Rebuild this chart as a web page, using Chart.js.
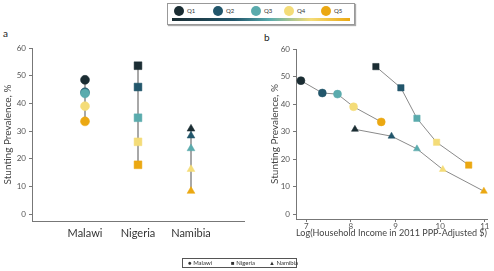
<!DOCTYPE html>
<html lang="en">
<head>
  <meta charset="UTF-8">
  <title>Stunting prevalence by income quintile</title>
  <script src="https://cdn.jsdelivr.net/npm/chart.js"></script>
  <style>
    body { margin: 0; width: 494px; height: 271px; position: relative; overflow: hidden; background: #fff; font-family: Lato, Arial, sans-serif; color: #333; }
    canvas { position: absolute; top: 0; }
    #chartA { left: 0; }
    #chartB { left: 250px; }
    .panel { position: absolute; font-size: 10px; color: #222; }
    #topLegend { position: absolute; left: 167px; top: 3px; width: 186px; height: 20px; border: 1px solid #999; box-shadow: 1px 1px 1px #aaa; background: #fff; }
    #topLegend .item { position: absolute; top: 2px; font-size: 6px; line-height: 10px; color: #333; white-space: nowrap; }
    #topLegend .dot { display: inline-block; width: 10px; height: 10px; border-radius: 50%; vertical-align: top; margin-right: 3px; }
    #topLegend .bar { position: absolute; left: 4px; right: 4px; top: 14px; height: 3px;
      background: linear-gradient(to right, #1b2d33 0%, #22566b 35%, #5aabad 55%, #f4dc78 78%, #eba812 100%); }
    #bottomLegend { position: absolute; left: 182px; top: 258px; width: 113px; height: 8px; border: 1px solid #555; font-size: 6px; line-height: 8px; color: #333; background: #fff; }
    #bottomLegend span { position: absolute; top: 0; white-space: nowrap; }
  </style>
</head>
<body>

<div class="panel" style="left:3px; top:27px;">a</div>
<div class="panel" style="left:264px; top:31px;">b</div>

<div id="topLegend">
  <div class="bar"></div>
</div>

<canvas id="chartA" width="250" height="271"></canvas>
<canvas id="chartB" width="244" height="271"></canvas>

<div id="bottomLegend">
  <span style="left:5px;">&#9679; Malawi</span>
  <span style="left:48px;">&#9632; Nigeria</span>
  <span style="left:86px;">&#9650; Namibia</span>
</div>

<script>
  const quintiles = ['Q1', 'Q2', 'Q3', 'Q4', 'Q5'];
  const countries = ['Malawi', 'Nigeria', 'Namibia'];
  const qColors = ['#1b2d33', '#22566b', '#5aabad', '#f4dc78', '#eba812'];

  // stunting prevalence (%) by quintile
  const malawiStunting = [48.5, 44.0, 43.6, 39.0, 33.5];
  const nigeriaStunting = [53.6, 45.9, 34.8, 26.1, 17.8];
  const namibiaStunting = [30.8, 28.3, 23.7, 16.2, 8.3];

  // log household income (2011 PPP $) by quintile
  const malawiIncome = [6.88, 7.36, 7.70, 8.06, 8.68];
  const nigeriaIncome = [8.56, 9.12, 9.48, 9.92, 10.64];
  const namibiaIncome = [8.09, 8.91, 9.48, 10.06, 10.98];

  const yTicks = [0, 10, 20, 30, 40, 50, 60];
  const xTicksB = [7, 8, 9, 10, 11];

  const stunting = [malawiStunting, nigeriaStunting, namibiaStunting];
  const income = [malawiIncome, nigeriaIncome, namibiaIncome];
  const shapes = ['circle', 'rect', 'triangle'];

  // top legend items
  const legendX = [6, 45, 83, 116, 153];
  const topLegend = document.getElementById('topLegend');
  quintiles.forEach((q, i) => {
    const el = document.createElement('div');
    el.className = 'item';
    el.style.left = legendX[i] + 'px';
    el.innerHTML = `<span class="dot" style="background:${qColors[i]}"></span>${q}`;
    topLegend.appendChild(el);
  });

  Chart.defaults.font.family = 'Lato, Arial, sans-serif';
  Chart.defaults.color = '#555';

  const tickStyle = { font: { size: 8 }, color: '#555' };
  const fixTicks = vals => scale => { scale.ticks = vals.map(v => ({ value: v })); };

  // panel a
  new Chart(document.getElementById('chartA'), {
    type: 'scatter',
    data: {
      datasets: countries.map((c, k) => ({
        label: c,
        data: stunting[k].map(v => ({ x: k + 1, y: v })),
        showLine: true,
        borderColor: '#a8a8a8',
        borderWidth: 2,
        pointStyle: shapes[k],
        pointRadius: k === 1 ? 5.5 : 4.5,
        pointBackgroundColor: qColors,
        pointBorderColor: qColors,
        pointBorderWidth: 0.5
      }))
    },
    options: {
      responsive: false,
      animation: false,
      events: [],
      layout: { padding: { top: 48, right: 2, bottom: 20, left: 0 } },
      plugins: { legend: { display: false }, tooltip: { enabled: false } },
      scales: {
        x: {
          type: 'linear', min: 0, max: 4,
          afterBuildTicks: fixTicks([1, 2, 3]),
          afterFit: s => { s.height = 30; },
          grid: { display: false, drawTicks: false },
          border: { color: '#777' },
          ticks: { padding: 6, font: { size: 11 }, color: '#333', callback: v => countries[v - 1] }
        },
        y: {
          min: -2.5, max: 60,
          afterBuildTicks: fixTicks(yTicks),
          afterFit: s => { s.width = 32; },
          grid: { drawOnChartArea: false, tickLength: 3, color: '#777' },
          border: { color: '#777' },
          ticks: Object.assign({ padding: 3 }, tickStyle),
          title: { display: true, text: 'Stunting Prevalence, %', font: { size: 10 }, color: '#444', padding: { top: 2, bottom: 0 } }
        }
      }
    }
  });

  // panel b
  new Chart(document.getElementById('chartB'), {
    type: 'scatter',
    data: {
      datasets: countries.map((c, k) => ({
        label: c,
        data: income[k].map((x, i) => ({ x: x, y: stunting[k][i] })),
        showLine: true,
        borderColor: '#8a8a8a',
        borderWidth: 1,
        pointStyle: shapes[k],
        pointRadius: k === 1 ? 4.5 : 4,
        pointBackgroundColor: qColors,
        pointBorderColor: qColors,
        pointBorderWidth: 0.5
      }))
    },
    options: {
      responsive: false,
      animation: false,
      events: [],
      clip: false,
      layout: { padding: { top: 49, right: 7, bottom: 32, left: 0 } },
      plugins: { legend: { display: false }, tooltip: { enabled: false } },
      scales: {
        x: {
          type: 'linear', min: 6.77, max: 11.05,
          afterBuildTicks: fixTicks(xTicksB),
          afterFit: s => { s.height = 20; },
          grid: { drawOnChartArea: false, tickLength: 3, color: '#777' },
          border: { color: '#777' },
          ticks: Object.assign({ padding: 0 }, tickStyle),
          title: { display: true, text: 'Log(Household Income in 2011 PPP-Adjusted $)', font: { size: 10 }, color: '#444', padding: 0 }
        },
        y: {
          min: -1.8, max: 60,
          afterBuildTicks: fixTicks(yTicks),
          afterFit: s => { s.width = 46; },
          grid: { drawOnChartArea: false, tickLength: 3, color: '#777' },
          border: { color: '#777' },
          ticks: Object.assign({ padding: 3 }, tickStyle),
          title: { display: true, text: 'Stunting Prevalence, %', font: { size: 10 }, color: '#444', padding: { top: 19, bottom: 0 } }
        }
      }
    }
  });
</script>

</body>
</html>
